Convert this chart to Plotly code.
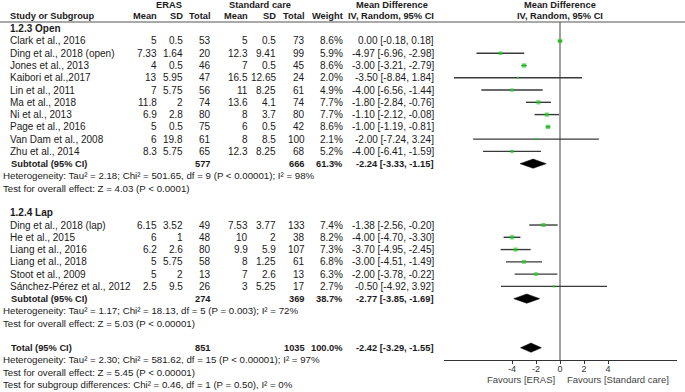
import plotly.graph_objects as go

# ---------------- data ----------------
studies_open = ["Clark et al., 2016", "Ding et al., 2018 (open)", "Jones et al., 2013", "Kaibori et al.,2017",
                "Lin et al., 2011", "Ma et al., 2018", "Ni et al., 2013", "Page et al., 2016",
                "Van Dam et al., 2008", "Zhu et al., 2014"]
eras_mean_open = [5, 7.33, 4, 13, 7, 11.8, 6.9, 5, 6, 8.3]
eras_sd_open = [0.5, 1.64, 0.5, 5.95, 5.75, 2, 2.8, 0.5, 19.8, 5.75]
eras_n_open = [53, 20, 46, 47, 56, 74, 80, 75, 61, 65]
sc_mean_open = [5, 12.3, 7, 16.5, 11, 13.6, 8, 6, 8, 12.3]
sc_sd_open = [0.5, 9.41, 0.5, 12.65, 8.25, 4.1, 3.7, 0.5, 8.5, 8.25]
sc_n_open = [73, 99, 45, 24, 61, 74, 80, 42, 100, 68]
weight_open = [8.6, 5.9, 8.6, 2.0, 4.9, 7.7, 7.7, 8.6, 2.1, 5.2]
md_open = [0.00, -4.97, -3.00, -3.50, -4.00, -1.80, -1.10, -1.00, -2.00, -4.00]
lo_open = [-0.18, -6.96, -3.21, -8.84, -6.56, -2.84, -2.12, -1.19, -7.24, -6.41]
hi_open = [0.18, -2.98, -2.79, 1.84, -1.44, -0.76, -0.08, -0.81, 3.24, -1.59]

studies_lap = ["Ding et al., 2018 (lap)", "He et al., 2015", "Liang et al., 2016", "Liang et al., 2018",
               "Stoot et al., 2009", "Sánchez-Pérez et al., 2012"]
eras_mean_lap = [6.15, 6, 6.2, 5, 5, 2.5]
eras_sd_lap = [3.52, 1, 2.6, 5.75, 2, 9.5]
eras_n_lap = [49, 48, 80, 58, 13, 26]
sc_mean_lap = [7.53, 10, 9.9, 8, 7, 3]
sc_sd_lap = [3.77, 2, 5.9, 1.25, 2.6, 5.25]
sc_n_lap = [133, 38, 107, 61, 13, 17]
weight_lap = [7.4, 8.2, 7.3, 6.8, 6.3, 2.7]
md_lap = [-1.38, -4.00, -3.70, -3.00, -2.00, -0.50]
lo_lap = [-2.56, -4.70, -4.95, -4.51, -3.78, -4.92]
hi_lap = [-0.20, -3.30, -2.45, -1.49, -0.22, 3.92]

pooled_labels = ["Subtotal (95% CI)", "Subtotal (95% CI)", "Total (95% CI)"]
pooled_n_eras = [577, 274, 851]
pooled_n_sc = [666, 369, 1035]
pooled_weight = [61.3, 38.7, 100.0]
pooled_md = [-2.24, -2.77, -2.42]
pooled_lo = [-3.33, -3.85, -3.29]
pooled_hi = [-1.15, -1.69, -1.55]

het_texts = ["Heterogeneity: Tau² = 2.18; Chi² = 501.65, df = 9 (P < 0.00001); I² = 98%",
             "Heterogeneity: Tau² = 1.17; Chi² = 18.13, df = 5 (P = 0.003); I² = 72%",
             "Heterogeneity: Tau² = 2.30; Chi² = 581.62, df = 15 (P < 0.00001); I² = 97%"]
test_texts = ["Test for overall effect: Z = 4.03 (P < 0.0001)",
              "Test for overall effect: Z = 5.03 (P < 0.00001)",
              "Test for overall effect: Z = 5.45 (P < 0.00001)"]
subgroup_text = "Test for subgroup differences: Chi² = 0.46, df = 1 (P = 0.50), I² = 0%"
group_names = ["1.2.3 Open", "1.2.4 Lap"]
tick_vals = [-4, -2, 0, 2, 4]
favours = ["Favours [ERAS]", "Favours [Standard care]"]

# ---------------- layout helpers ----------------
W, H = 685, 392
ROW0, ROWH = 28.7, 12.27
X0PX, PXU = 560.0, 12.0
AX_L, AX_R = 444, 677
AX_Y = 360

def rowy(py):
    return (py - ROW0) / ROWH

def px(x):
    return x / W

FONT = "Arial, Liberation Sans, sans-serif"
FS = 10
FSB = 9.3
FSN = 9.7
TXT = "#1a1a1a"

rows_open = list(range(1, 11))
rows_lap = list(range(16, 22))
group_rows = [0, 15]
pooled_rows = [11, 22, 26]
het_rows = [12, 23, 27]
test_rows = [13, 24, 28]
subgroup_row = 29

col_mean1, col_sd1, col_n1 = 159, 185, 213
col_mean2, col_sd2, col_n2 = 250, 277.5, 307
col_w, col_ci = 345, 435.7

fig = go.Figure()
ann = []

def add_text(x, y, text, anchor="right", bold=False, yref="y", size=None, color=TXT):
    if size is None:
        size = FSB if bold else FS
    ann.append(dict(x=px(x), xref="paper", y=y, yref=yref, text=("<b>%s</b>" % text) if bold else text,
                    showarrow=False, xanchor=anchor, yanchor="middle",
                    font=dict(family=FONT, size=size, color=color)))

def g(v):
    return f"{v:g}"

# headers
hy1, hy2 = rowy(4.5), rowy(16)
add_text(169, hy1, "ERAS", "center", True)
add_text(260, hy1, "Standard care", "center", True)
add_text(392, hy1, "Mean Difference", "center", True)
add_text(X0PX, hy1, "Mean Difference", "center", True)
add_text(8, hy2, "Study or Subgroup", "left", True)
for xx, t in [(col_mean1, "Mean"), (col_sd1, "SD"), (col_n1, "Total"), (col_mean2, "Mean"),
              (col_sd2, "SD"), (col_n2, "Total"), (col_w, "Weight"), (col_ci, "IV, Random, 95% CI")]:
    add_text(xx, hy2, t, "right", True)
add_text(X0PX, hy2, "IV, Random, 95% CI", "center", True)

groups = [
    (studies_open, eras_mean_open, eras_sd_open, eras_n_open, sc_mean_open, sc_sd_open, sc_n_open,
     weight_open, md_open, lo_open, hi_open, rows_open),
    (studies_lap, eras_mean_lap, eras_sd_lap, eras_n_lap, sc_mean_lap, sc_sd_lap, sc_n_lap,
     weight_lap, md_lap, lo_lap, hi_lap, rows_lap),
]

ci_x, ci_y, sq_x, sq_y, sq_s = [], [], [], [], []
for gi, (names, m1, s1, n1, m2, s2, n2, w, md, lo, hi, rows) in enumerate(groups):
    add_text(8, group_rows[gi], group_names[gi], "left", True, size=FS)
    for i, r in enumerate(rows):
        add_text(8, r, names[i], "left")
        add_text(col_mean1, r, g(m1[i]))
        add_text(col_sd1, r, g(s1[i]))
        add_text(col_n1, r, str(n1[i]))
        add_text(col_mean2, r, g(m2[i]))
        add_text(col_sd2, r, g(s2[i]))
        add_text(col_n2, r, str(n2[i]))
        add_text(col_w, r, f"{w[i]:.1f}%")
        add_text(col_ci, r, f"{md[i]:.2f} [{lo[i]:.2f}, {hi[i]:.2f}]")
        ci_x += [lo[i], hi[i], None]
        ci_y += [r, r, None]
        sq_x.append(md[i])
        sq_y.append(r)
        sq_s.append(1.5 * w[i] ** 0.5)

for k, r in enumerate(pooled_rows):
    add_text(9, r, pooled_labels[k], "left", True)
    add_text(col_n1, r, str(pooled_n_eras[k]), bold=True)
    add_text(col_n2, r, str(pooled_n_sc[k]), bold=True)
    add_text(col_w, r, f"{pooled_weight[k]:.1f}%", bold=True)
    add_text(col_ci, r, f"{pooled_md[k]:.2f} [{pooled_lo[k]:.2f}, {pooled_hi[k]:.2f}]", bold=True)
for k in range(3):
    add_text(1, het_rows[k], het_texts[k], "left", size=FSN)
    add_text(1, test_rows[k], test_texts[k], "left", size=FSN)
add_text(1, subgroup_row, subgroup_text, "left", size=FSN)

# favours labels
fy = 1 - 379.5 / H
add_text(556.5, fy, favours[0], "right", yref="paper", color="#444", size=9.5)
add_text(565, fy, favours[1], "left", yref="paper", color="#444", size=9.5)

# CI lines
fig.add_trace(go.Scatter(x=ci_x, y=ci_y, mode="lines", line=dict(color="#3a3a3a", width=1.4),
                         hoverinfo="skip", showlegend=False))
# squares
fig.add_trace(go.Scatter(x=sq_x, y=sq_y, mode="markers",
                         marker=dict(symbol="square", size=sq_s, color="#1fd11f", line=dict(width=0)),
                         showlegend=False))
# diamonds
dh = 4.6 / ROWH
for k, r in enumerate(pooled_rows):
    fig.add_trace(go.Scatter(x=[pooled_lo[k], pooled_md[k], pooled_hi[k], pooled_md[k], pooled_lo[k]],
                             y=[r, r - dh, r, r + dh, r], mode="lines", fill="toself",
                             fillcolor="black", line=dict(color="black", width=0.5),
                             hoverinfo="skip", showlegend=False))

shapes = [
    dict(type="line", xref="paper", yref="paper", x0=0, x1=1, y0=1 - 22 / H, y1=1 - 22 / H,
         line=dict(color="#555", width=1.2)),
    dict(type="line", xref="x", yref="paper", x0=0, x1=0, y0=1 - 22 / H, y1=1 - AX_Y / H,
         line=dict(color="#8a8a8a", width=1.6), layer="below"),
]

fig.update_layout(
    width=W, height=H, margin=dict(l=0, r=0, t=0, b=0),
    paper_bgcolor="white", plot_bgcolor="rgba(0,0,0,0)",
    annotations=ann, shapes=shapes,
    xaxis=dict(domain=[AX_L / W, AX_R / W],
               range=[(AX_L - X0PX) / PXU, (AX_R - X0PX) / PXU],
               anchor="free", position=1 - AX_Y / H,
               showline=True, linecolor="#333", linewidth=1.2,
               tickvals=tick_vals, ticktext=[str(v) for v in tick_vals],
               ticks="outside", ticklen=3, tickcolor="#333", tickwidth=1.2,
               ticklabelstandoff=-3,
               tickfont=dict(family=FONT, size=9, color="#333"),
               showgrid=False, zeroline=False, fixedrange=True),
    yaxis=dict(domain=[0, 1], range=[rowy(H), rowy(0)], visible=False, fixedrange=True),
    showlegend=False,
)

fig.write_html("out.html", config={"displayModeBar": False},
               post_script="document.body.style.margin='0px';document.body.style.overflow='hidden';")
